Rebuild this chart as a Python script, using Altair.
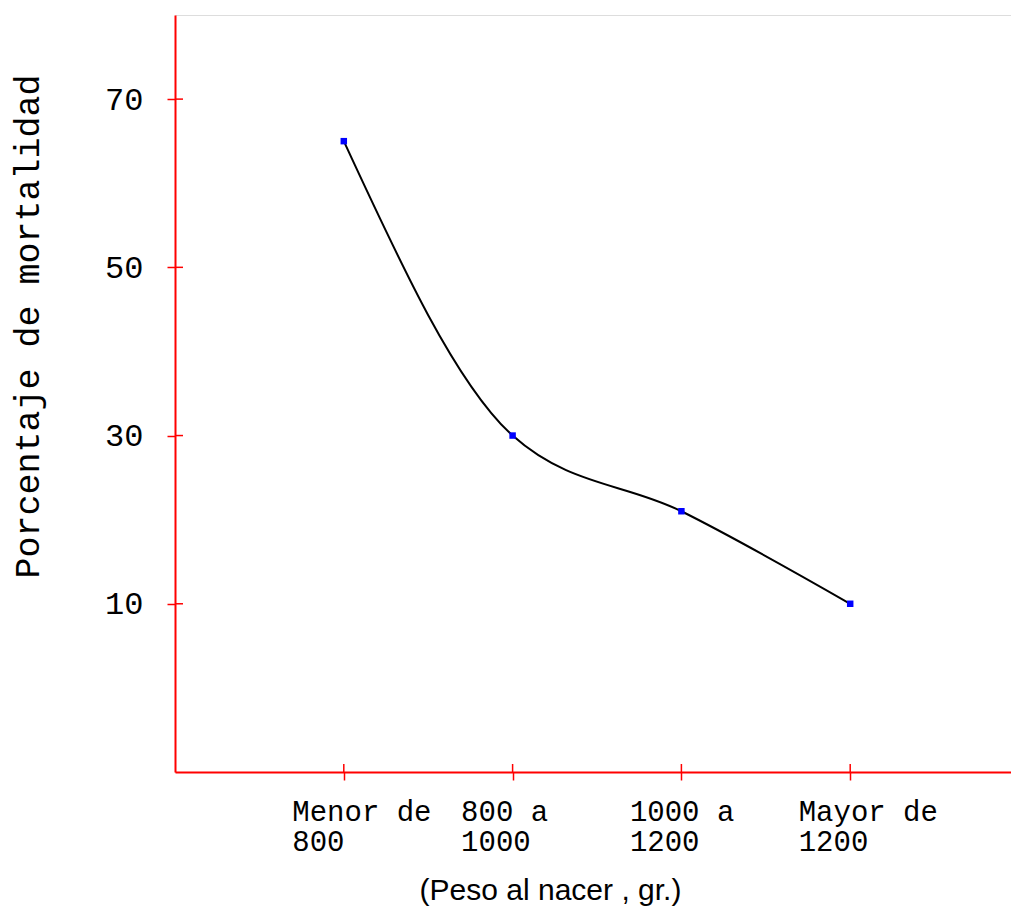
import altair as alt
import pandas as pd

label_line1 = ["Menor de", "800 a", "1000 a", "Mayor de"]
label_line2 = ["800", "1000", "1200", "1200"]
mortality = [65, 30, 21, 10]
y_ticks = [10, 30, 50, 70]

categories = [a + "\n" + b for a, b in zip(label_line1, label_line2)]

df = pd.DataFrame({"cat": categories, "pct": mortality})
df_yt = pd.DataFrame({"pct": y_ticks})
df_xt = pd.DataFrame({"cat": categories})

W, H = 844, 757

x_enc = alt.X(
    "cat:N",
    sort=categories,
    scale=alt.Scale(type="point", padding=1.02),
    axis=alt.Axis(
        title="(Peso al nacer , gr.)",
        titleFont="Liberation Sans",
        titleFontSize=30,
        titleFontWeight="normal",
        titleColor="black",
        titleX=375,
        titleY=127,
        titleBaseline="alphabetic",
        titleAlign="center",
        labelExpr="split(datum.label, '\\n')",
        labelFont="Liberation Mono",
        labelFontSize=29,
        labelColor="black",
        labelAngle=0,
        labelAlign="left",
        labelOffset=-52,
        labelLineHeight=30,
        labelBaseline="top",
        labelPadding=17,
        domainColor="red",
        domainWidth=2,
        tickColor="red",
        tickWidth=1.5,
        tickSize=8,
        grid=False,
    ),
)

y_enc = alt.Y(
    "pct:Q",
    scale=alt.Scale(domain=[-10, 80], nice=False, zero=False),
    axis=alt.Axis(
        title="Porcentaje de mortalidad",
        titleFont="Liberation Mono",
        titleFontSize=35,
        titleFontWeight="normal",
        titleColor="black",
        titleAngle=-90,
        titleX=-148,
        titleY=311,
        titleAlign="center",
        titleBaseline="middle",
        values=y_ticks,
        labelFont="Liberation Mono",
        labelFontSize=32,
        labelColor="black",
        labelPadding=24,
        domainColor="red",
        domainWidth=2,
        tickColor="red",
        tickWidth=1.5,
        tickSize=8,
        grid=False,
    ),
)

line = alt.Chart(df).mark_line(
    interpolate="monotone", color="black", strokeWidth=2
).encode(x=x_enc, y=y_enc)

points = alt.Chart(df).mark_square(
    size=42, color="blue", opacity=1
).encode(x=x_enc, y=y_enc)

y_inner = alt.Chart(df_yt).mark_rule(color="red", strokeWidth=1.5).encode(
    y=y_enc, x=alt.value(0), x2=alt.value(8)
)

x_inner = alt.Chart(df_xt).mark_rule(color="red", strokeWidth=1.5).encode(
    x=x_enc, y=alt.value(H - 8), y2=alt.value(H)
)

chart = (
    alt.layer(y_inner, x_inner, line, points)
    .properties(
        width=W,
        height=H,
        autosize=alt.AutoSizeParams(type="none"),
        padding={"left": 167, "top": 7, "right": -8, "bottom": 134},
    )
    .configure_view(stroke="transparent", strokeWidth=0)
    .configure(background="white")
)

chart.save("out.html", embed_options={"renderer": "svg", "actions": False})
